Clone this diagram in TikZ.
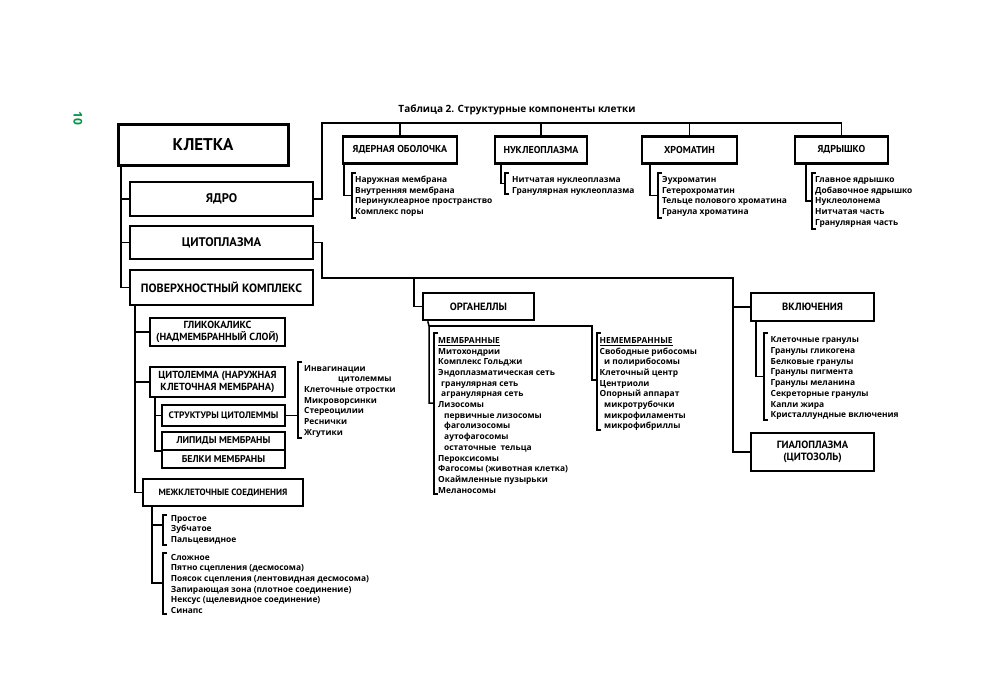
\documentclass[tikz,border=0pt]{standalone}
\usepackage{fontspec}
\setmainfont{Open Sans}
\newfontfamily\boxfont{PT Sans}
\usetikzlibrary{calc}
\definecolor{pgreen}{RGB}{0,150,70}
\newcommand\mklist[7]{%
  \coordinate (#1T) at (#2,#3);
  \coordinate (#1B) at (#2,#4);
  \draw[brk] ([xshift=4pt]#1T) -- (#1T) -- (#1B) -- ([xshift=4pt]#1B);
  \coordinate (#1M) at ($(#1T)!0.5!(#1B)$);
  \foreach \t [count=\i from 0] in {#7} \node[item] (#1\i) at (#5,{#6+10.7*\i}) {\t};
}
\begin{document}
\begin{tikzpicture}[x=1pt,y=-1pt,line join=miter,
  conn/.style={line width=1.5pt},
  brk/.style={line width=1.3pt},
  bx/.style={draw,inner sep=0pt,align=center,font=\boxfont\bfseries},
  item/.style={anchor=base west,inner sep=0pt,font=\bfseries\fontsize{8.4}{10}\selectfont}]
\useasboundingbox[fill=white] (0,0) rectangle (1000,682);
% page number and title
\node[rotate=-90,text=pgreen,font=\bfseries\fontsize{12}{14}\selectfont] (pg) at (78,118) {10};
\node[font=\bfseries\fontsize{10}{12}\selectfont] (title) at (517,110) {Таблица 2. Структурные компоненты клетки};
% main column
\node[bx,line width=3pt,minimum width=170pt,minimum height=41pt,font=\boxfont\bfseries\fontsize{17}{20}\selectfont] (kl) at (203,144.5) {КЛЕТКА};
\node[bx,line width=2.7pt,minimum width=183pt,minimum height=34pt,font=\boxfont\bfseries\fontsize{12.5}{14}\selectfont] (ya) at (221.5,199) {ЯДРО};
\node[bx,line width=2.7pt,minimum width=183pt,minimum height=33pt,font=\boxfont\bfseries\fontsize{12.5}{14}\selectfont] (cy) at (221.5,242.5) {ЦИТОПЛАЗМА};
\node[bx,line width=2.7pt,minimum width=183pt,minimum height=35pt,font=\boxfont\bfseries\fontsize{12}{14}\selectfont] (pk) at (221.5,287.5) {ПОВЕРХНОСТНЫЙ КОМПЛЕКС};
\coordinate (t1) at (121,0);
\draw[conn] (t1 |- kl.south) |- (pk.west);
\draw[conn] (t1 |- ya.west) -- (ya.west);
\draw[conn] (t1 |- cy.west) -- (cy.west);
% nucleus headers
\tikzset{hdr/.style={bx,line width=2.4pt,minimum height=27pt,font=\boxfont\bfseries\fontsize{10}{12}\selectfont}}
\node[hdr,minimum width=114pt] (hob) at (400,150) {ЯДЕРНАЯ ОБОЛОЧКА};
\node[hdr,minimum width=92pt] (hnu) at (541,150) {НУКЛЕОПЛАЗМА};
\node[hdr,minimum width=95pt] (hxr) at (689.5,150) {ХРОМАТИН};
\node[hdr,minimum width=93pt] (hyd) at (841.5,150) {ЯДРЫШКО};
\coordinate (top) at (322,123);
\draw[conn] (ya.east) -| (top) -| (hyd.north);
\foreach \n in {hob,hnu,hxr} \draw[conn] (\n.north) -- (\n.north |- top);
\mklist{ob}{352}{173}{218}{355}{182.5}{Наружная мембрана,Внутренняя мембрана,Перинуклеарное пространство,Комплекс поры}
\mklist{nu}{505}{173}{194}{512}{182.5}{Нитчатая нуклеоплазма,Гранулярная нуклеоплазма}
\mklist{xr}{658}{173}{218}{662}{182.5}{Эухроматин,Гетерохроматин,Тельце полового хроматина,Гранула хроматина}
\mklist{yd}{812}{173}{229}{815}{182.5}{Главное ядрышко,Добавочное ядрышко,Нуклеолонема,Нитчатая часть,Гранулярная часть}
\draw[conn] ([xshift=2pt]hob.south west) |- (obM);
\draw[conn] ([xshift=7pt]hnu.south west) |- (nuM);
\draw[conn] ([xshift=9pt]hxr.south west) |- (xrM);
\draw[conn] ([xshift=12pt]hyd.south west) |- (ydM);
% cytoplasm
\tikzset{mid/.style={bx,line width=2.5pt,font=\boxfont\bfseries\fontsize{10.5}{12}\selectfont}}
\node[mid,minimum width=111pt,minimum height=27pt] (org) at (478.5,306.5) {ОРГАНЕЛЛЫ};
\node[mid,minimum width=123pt,minimum height=28pt] (inc) at (812.5,307) {ВКЛЮЧЕНИЯ};
\node[mid,minimum width=123pt,minimum height=38pt,font=\boxfont\bfseries\fontsize{10.5}{12.5}\selectfont] (gi) at (812.5,452) {ГИАЛОПЛАЗМА\\(ЦИТОЗОЛЬ)};
\coordinate (cyJ) at (322,278);
\coordinate (inJ) at (733,278);
\coordinate (orgTop) at (414,278);
\draw[conn] (cy.east) -| (cyJ) -- (inJ) |- (gi.west);
\draw[conn] (orgTop) |- (org.west);
\draw[conn] (inJ |- inc.west) -- (inc.west);
\mklist{in}{764}{333}{420}{770.5}{342.8}{Клеточные гранулы,Гранулы гликогена,Белковые гранулы,Гранулы пигмента,Гранулы меланина,Секреторные гранулы,Капли жира,Кристаллундные включения}
\draw[conn] ([xshift=6pt]inc.south west) |- (inM);
\mklist{me}{434}{333}{494}{438}{343.3}{\underline{МЕМБРАННЫЕ},Митохондрии,Комплекс Гольджи,Эндоплазматическая сеть,\hspace*{3pt}гранулярная сеть,\hspace*{3pt}агранулярная сеть,Лизосомы,\hspace*{6pt}первичные лизосомы,\hspace*{6pt}фаголизосомы,\hspace*{6pt}аутофагосомы,\hspace*{6pt}остаточные\ \ тельца,Пероксисомы,Фагосомы (животная клетка),Окаймленные пузырьки,Меланосомы}
\mklist{nm}{597}{333}{430}{599.5}{343.3}{\underline{НЕМЕМБРАННЫЕ},Свободные рибосомы,\hspace*{4.5pt}и полирибосомы,Клеточный центр,Центриоли,Опорный аппарат,\hspace*{4.5pt}микротрубочки,\hspace*{4.5pt}микрофиламенты,\hspace*{4.5pt}микрофибриллы}
\coordinate (orgJ) at (429,326);
\coordinate (meJ) at (434,403);
\coordinate (nmJ) at (597,380);
\draw[conn] ([xshift=6pt]org.south west) -- (orgJ) |- (meJ);
\draw[conn] (orgJ) -| ([xshift=-5pt]nmJ) -- (nmJ);
% surface complex
\tikzset{sub/.style={bx,line width=2.5pt,font=\boxfont\bfseries\fontsize{10.3}{11.8}\selectfont},
  thin/.style={bx,line width=1.6pt,font=\boxfont\bfseries\fontsize{9.8}{11}\selectfont}}
\node[sub,minimum width=135pt,minimum height=28pt] (gl) at (217.5,332) {ГЛИКОКАЛИКС\\(НАДМЕМБРАННЫЙ СЛОЙ)};
\node[sub,minimum width=135pt,minimum height=30pt] (cl) at (217.5,382) {ЦИТОЛЕММА (НАРУЖНАЯ\\КЛЕТОЧНАЯ МЕМБРАНА)};
\node[thin,minimum width=123pt,minimum height=21pt,font=\boxfont\bfseries\fontsize{9.4}{11}\selectfont] (st) at (223.5,415.5) {СТРУКТУРЫ ЦИТОЛЕММЫ};
\node[thin,minimum width=123pt,minimum height=18pt] (lp) at (223.5,441) {ЛИПИДЫ МЕМБРАНЫ};
\node[thin,minimum width=123pt,minimum height=18pt] (bm) at (223.5,459) {БЕЛКИ МЕМБРАНЫ};
\node[sub,line width=2.3pt,minimum width=160pt,minimum height=27pt,font=\boxfont\bfseries\fontsize{9.1}{10}\selectfont] (mz) at (223,492.5) {МЕЖКЛЕТОЧНЫЕ СОЕДИНЕНИЯ};
\coordinate (t2) at (135,0);
\draw[conn] (t2 |- pk.south) |- (mz.west);
\draw[conn] (t2 |- gl.west) -- (gl.west);
\draw[conn] (t2 |- cl.west) -- (cl.west);
\coordinate (t3) at (155,0);
\draw[conn] (t3 |- cl.south) |- (lp.south west);
\draw[conn] (t3 |- st.west) -- (st.west);
\mklist{cs}{298}{362}{438}{304}{371}{Инвагинации,\hspace*{34pt}цитолеммы,Клеточные отростки,Микроворсинки,Стереоцилии,Реснички,Жгутики}
\draw[conn] (st.east) -- (st.east -| csT);
\mklist{ma}{163}{515}{545}{170.7}{521}{Простое,Зубчатое,Пальцевидное}
\mklist{mb}{163}{553}{614}{170.7}{560}{Сложное,Пятно сцепления (десмосома),Поясок сцепления (лентовидная десмосома),Запирающая зона (плотное соединение),Нексус (щелевидное соединение),Синапс}
\coordinate (mzT) at (152,0);
\coordinate (maJ) at (163,525);
\coordinate (mbJ) at (163,583);
\draw[conn] (mzT |- mz.south) |- (mbJ);
\draw[conn] (mzT |- maJ) -- (maJ);
\end{tikzpicture}
\end{document}
